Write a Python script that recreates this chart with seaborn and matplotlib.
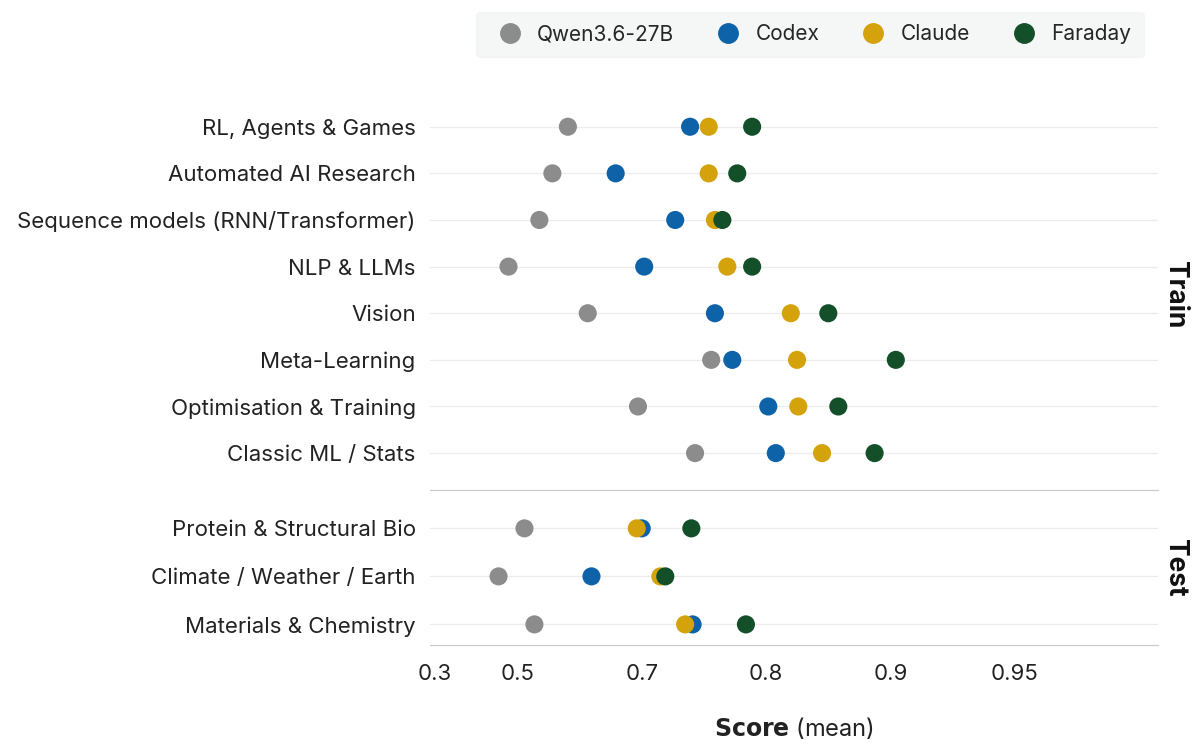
import numpy as np
import pandas as pd
import matplotlib
matplotlib.use("Agg")
import matplotlib.pyplot as plt
import seaborn as sns

sns.set_style("white")
plt.rcParams['font.family'] = ['Inter', 'DejaVu Sans']

train_cats = ["RL, Agents & Games", "Automated AI Research", "Sequence models (RNN/Transformer)",
              "NLP & LLMs", "Vision", "Meta-Learning", "Optimisation & Training", "Classic ML / Stats"]
test_cats = ["Protein & Structural Bio", "Climate / Weather / Earth", "Materials & Chemistry"]
models = ["Qwen3.6-27B", "Codex", "Claude", "Faraday"]
colors = ["#8c8c8c", "#0e62a8", "#d4a20a", "#13502a"]

qwen_train = [0.581, 0.556, 0.535, 0.478, 0.613, 0.756, 0.694, 0.743]
codex_train = [0.739, 0.658, 0.727, 0.702, 0.759, 0.773, 0.802, 0.808]
claude_train = [0.754, 0.754, 0.759, 0.769, 0.820, 0.825, 0.826, 0.845]
faraday_train = [0.789, 0.777, 0.765, 0.789, 0.850, 0.902, 0.858, 0.887]
qwen_test = [0.511, 0.454, 0.527]
codex_test = [0.700, 0.619, 0.741]
claude_test = [0.692, 0.715, 0.735]
faraday_test = [0.740, 0.719, 0.784]

tick_vals = [0.3, 0.5, 0.7, 0.8, 0.9, 0.95]
# uneven axis spacing of the tick values (plus extension points beyond the ends)
scale_vals = [0.2] + tick_vals + [1.05]
scale_pos = [-41.5, 0, 83, 207, 331, 456, 580, 828]

def fwd(x):
    return np.interp(x, scale_vals, scale_pos)

def inv(p):
    return np.interp(p, scale_pos, scale_vals)

def frame(cats, series):
    rows = []
    for m, vals in zip(models, series):
        for c, v in zip(cats, vals):
            rows.append({"cat": c, "model": m, "score": v, "y": cats.index(c)})
    return pd.DataFrame(rows)

df_train = frame(train_cats, [qwen_train, codex_train, claude_train, faraday_train])
df_test = frame(test_cats, [qwen_test, codex_test, claude_test, faraday_test])

fig = plt.figure(figsize=(12, 7.44), dpi=100)
gs = fig.add_gridspec(2, 1, height_ratios=[390, 155], hspace=0,
                      left=0.358, right=0.965, top=0.866, bottom=0.133)
axes = [fig.add_subplot(gs[0]), fig.add_subplot(gs[1])]

for ax, df, cats, lab, pads in [(axes[0], df_train, train_cats, "Train", (0.58, 0.79)),
                                (axes[1], df_test, test_cats, "Test", (0.8, 0.43))]:
    ax.set_xscale('function', functions=(fwd, inv))
    ax.patch.set_visible(False)
    for y in range(len(cats)):
        ax.axhline(y, color="#ececec", lw=0.9, zorder=0)
    sns.scatterplot(data=df, x="score", y="y", hue="model", hue_order=models,
                    palette=colors, s=170, edgecolor="none", ax=ax, legend=False, zorder=3)
    ax.set_xlim(inv(-5), inv(723))
    ax.set_ylim(len(cats) - 1 + pads[1], -pads[0])
    ax.set_yticks(range(len(cats)))
    ax.set_yticklabels(cats, fontsize=16, color="#222222")
    ax.tick_params(axis='y', length=0, pad=10)
    ax.set_ylabel("")
    ax.set_xlabel("")
    for s in ["top", "left", "right"]:
        ax.spines[s].set_visible(False)
    ax.spines["bottom"].set_color("#c8c8c8")
    ax.text(1.005, 0.5, lab, transform=ax.transAxes, rotation=270, va="center", ha="left",
            fontsize=19, fontweight="bold", color="#111111")

axes[0].set_xticks([])
axes[1].set_xticks(tick_vals)
axes[1].set_xticklabels([str(v) for v in tick_vals], fontsize=16, color="#222222")
axes[1].tick_params(axis='x', length=0, pad=14)
axes[1].set_xlabel(r"$\bf{Score}$ (mean)", fontsize=17, labelpad=22, color="#222222")

handles = [plt.Line2D([], [], marker='o', ls='', color=c, markersize=14) for c in colors]
fig.legend(handles, models, loc="upper center", bbox_to_anchor=(0.675, 0.998), ncol=4,
           fontsize=15, frameon=True, facecolor="#f3f4f4", edgecolor="#f3f4f4",
           handletextpad=0.3, columnspacing=1.6, borderpad=0.6)

fig.savefig("out.png", dpi=100)
